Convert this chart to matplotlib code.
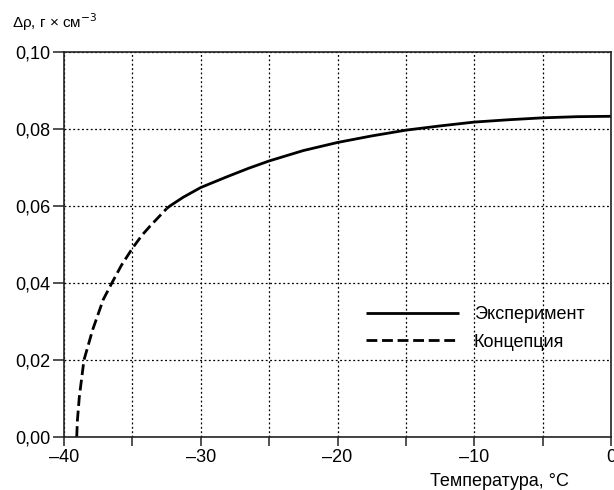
import matplotlib
matplotlib.use("Agg")
import matplotlib.pyplot as plt
from matplotlib.ticker import FixedLocator, FuncFormatter

plt.rcParams['font.family'] = ['Liberation Sans', 'DejaVu Sans']

# Data
exp_t = [-32.5, -32.26, -31.27, -30.0, -28.15, -26.5, -25.0, -22.5, -20.0, -17.5, -15.0, -12.5, -10.0, -7.5, -5.0, -2.5, 0.0]
exp_v = [0.0593, 0.0600, 0.0623, 0.0648, 0.0675, 0.0698, 0.0717, 0.0744, 0.0765, 0.0782, 0.0797, 0.0808, 0.0818, 0.0824, 0.0829, 0.0832, 0.0833]
con_t = [-39.07, -39.02, -38.88, -38.54, -37.9, -37.13, -36.5, -35.8, -35.0, -34.3, -33.7, -32.5]
con_v = [0.0, 0.0043, 0.0104, 0.020, 0.0279, 0.0357, 0.040, 0.0446, 0.049, 0.0524, 0.0548, 0.0593]
x_major = [-40, -30, -20, -10, 0]
x_minor = [-35, -25, -15, -5]
y_ticks = [0.0, 0.02, 0.04, 0.06, 0.08, 0.10]
labels = ["Эксперимент", "Концепция"]

fig = plt.figure(figsize=(6.14, 4.9), dpi=100)
ax = fig.add_axes([64/614, 53/490, 547/614, 385/490])

ax.plot(exp_t, exp_v, color='black', lw=2.0, label=labels[0], solid_capstyle='butt', solid_joinstyle='round')
ax.plot(con_t, con_v, color='black', lw=2.0, ls=(0, (3.9, 1.7)), label=labels[1], dash_capstyle='butt')

ax.set_xlim(-40, 0)
ax.set_ylim(0, 0.10)
ax.xaxis.set_major_locator(FixedLocator(x_major))
ax.xaxis.set_minor_locator(FixedLocator(x_minor))
ax.yaxis.set_major_locator(FixedLocator(y_ticks))

def xfmt(v, p):
    return "0" if v == 0 else "\u2013%d" % abs(v)

ax.xaxis.set_major_formatter(FuncFormatter(xfmt))
ax.yaxis.set_major_formatter(FuncFormatter(lambda v, p: ("%.2f" % v).replace('.', ',')))

ax.tick_params(axis='both', which='both', direction='out', width=1.1, color='#222222', labelsize=13)
ax.tick_params(axis='x', which='both', length=6.5, pad=2)
ax.tick_params(axis='y', which='both', length=8, pad=2)

ax.grid(True, which='both', color='black', ls=(0, (1.5, 2)), lw=0.9)
for s in ax.spines.values():
    s.set_linewidth(1.2)
    s.set_color('#222222')

fig.text(12/614, 1 - 22/490, "\u0394\u03c1, г \u00d7 см$^{\u22123}$", fontsize=11, va='center', ha='left')
fig.text(569/614, 1 - 481/490, "Температура, \u00b0C", fontsize=13, va='center', ha='right')

leg = ax.legend(frameon=False, fontsize=13, handlelength=5.15, handletextpad=0.8,
                loc='upper left', bbox_to_anchor=((350 - 64)/547, (437 - 290)/385),
                labelspacing=0.58)

fig.savefig("out.png", dpi=100)
